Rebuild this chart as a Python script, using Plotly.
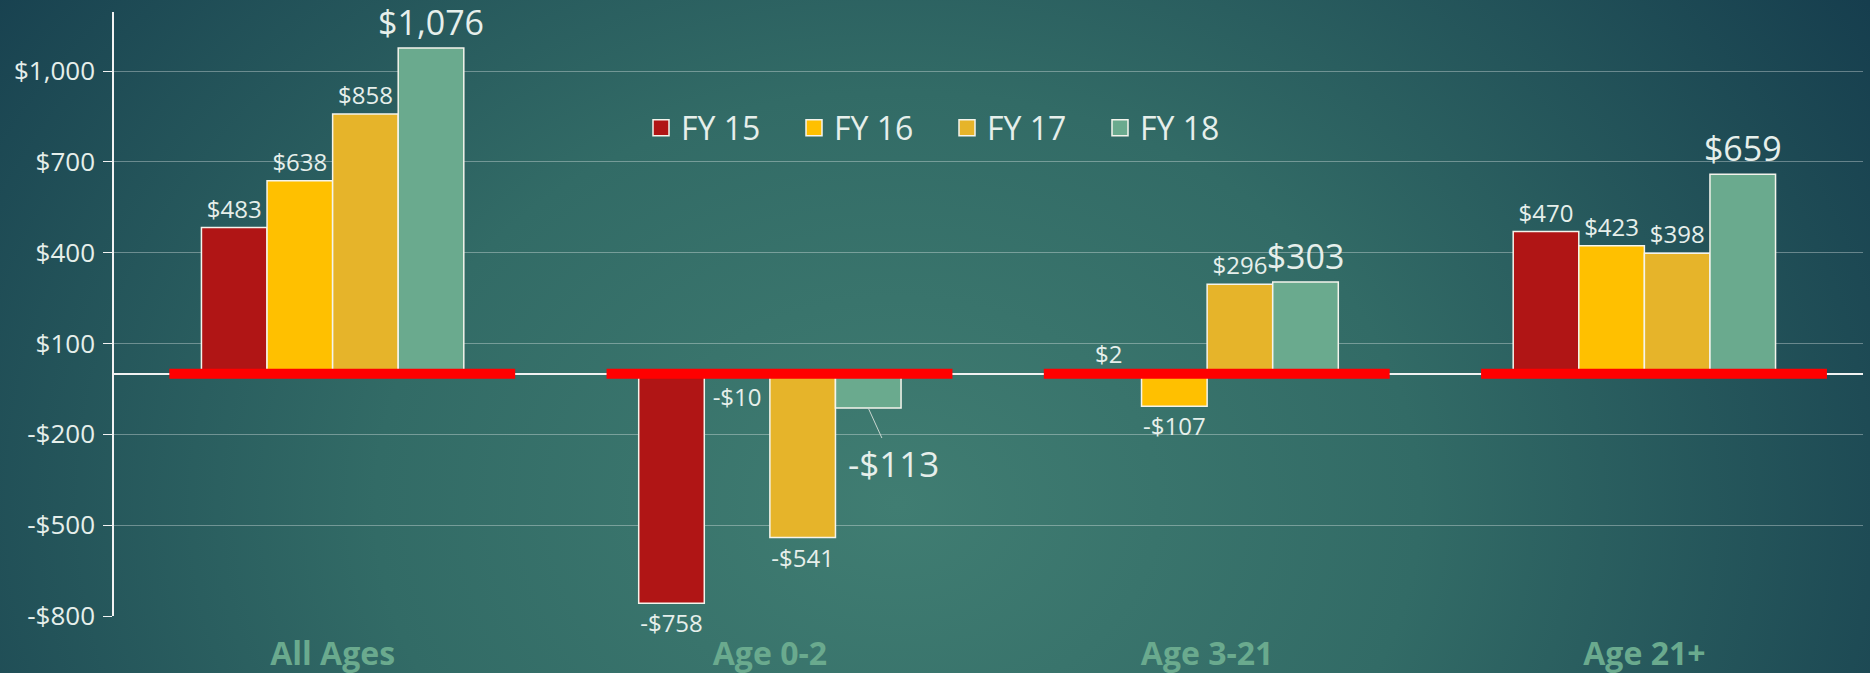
import base64
import plotly.graph_objects as go

# ---------------- data ----------------
categories = ["All Ages", "Age 0-2", "Age 3-21", "Age 21+"]
series_names = ["FY 15", "FY 16", "FY 17", "FY 18"]
fy15 = [483, -758, 2, 470]
fy16 = [638, -10, -107, 423]
fy17 = [858, -541, 296, 398]
fy18 = [1076, -113, 303, 659]
tick_values = [-800, -500, -200, 100, 400, 700, 1000]

# ---------------- style ----------------
colors = ["#B01515", "#FFC000", "#E6B42A", "#6AAA8E"]
W, H = 1870, 673
ML, MR, MT, MB = 114, 7, 12, 57
FONT = "Open Sans"
TXT = "#E6EFEB"
BARGAP = 0.40
OUTLINE = "#F4F4EC"


def money(v):
    return f"-${abs(v):,}" if v < 0 else f"${v:,}"


fig = go.Figure()
all_series = [fy15, fy16, fy17, fy18]
for name, vals, col in zip(series_names, all_series, colors):
    big = name == "FY 18"
    texts, sizes = [], []
    for c, v in zip(categories, vals):
        texts.append("" if (big and c == "Age 0-2") else money(v))
        sizes.append(34 if big else 24)
    fig.add_trace(go.Bar(
        name=name, x=categories, y=vals, legendgroup=name, showlegend=False,
        marker=dict(color=col, line=dict(color=OUTLINE, width=1.5)),
        text=texts, textposition="outside", constraintext="none",
        cliponaxis=False,
        textfont=dict(family=FONT, size=sizes, color=TXT),
        hoverinfo="skip",
    ))

# legend entries (larger square swatches)
for name, col in zip(series_names, colors):
    fig.add_trace(go.Scatter(
        name=name, x=[None], y=[None], mode="markers", legendgroup=name,
        marker=dict(symbol="square", size=16, color=col,
                    line=dict(color=OUTLINE, width=1.5)),
        hoverinfo="skip",
    ))

# red baseline strokes per category
shapes = []
half = 0.3955
for i, _ in enumerate(categories):
    shapes.append(dict(type="line", xref="x", yref="y",
                       x0=i + 0.022 - half, x1=i + 0.022 + half, y0=0, y1=0,
                       line=dict(color="#FF0000", width=10), layer="above"))

# call-out label for Age 0-2 FY 18
bw = (1 - BARGAP) / len(series_names)
idx = categories.index("Age 0-2")
annotations = [dict(
    x=idx + 1.5 * bw, y=fy18[idx], xref="x", yref="y",
    text=money(fy18[idx]), showarrow=True, arrowhead=0, arrowwidth=1,
    arrowcolor="#C9D6D0", ax=25, ay=55,
    font=dict(family=FONT, size=35, color=TXT),
)]

# background gradient
svg = f'''<svg xmlns="http://www.w3.org/2000/svg" width="{W}" height="{H}" viewBox="0 0 {W} {H}" preserveAspectRatio="none">
<defs><radialGradient id="g" cx="0.48" cy="0.75" r="0.62" gradientUnits="objectBoundingBox" gradientTransform="translate(0.48 0.75) scale(1 2.2) translate(-0.48 -0.75)">
<stop offset="0" stop-color="#407D72"/>
<stop offset="0.45" stop-color="#326B66"/>
<stop offset="1" stop-color="#163E4E"/>
</radialGradient></defs>
<rect width="{W}" height="{H}" fill="url(#g)"/></svg>'''
src = "data:image/svg+xml;base64," + base64.b64encode(svg.encode()).decode()
pw, ph = W - ML - MR, H - MT - MB

fig.update_layout(
    width=W, height=H,
    margin=dict(l=ML, r=MR, t=MT, b=MB, pad=0, autoexpand=False),
    paper_bgcolor="#1E4A54", plot_bgcolor="rgba(0,0,0,0)",
    barmode="group", bargap=BARGAP, bargroupgap=0,
    font=dict(family=FONT, color=TXT),
    showlegend=True,
    legend=dict(orientation="h", x=(641 - ML) / pw, y=1 - (128 - MT) / ph,
                xanchor="left", yanchor="middle", bgcolor="rgba(0,0,0,0)",
                font=dict(family=FONT, size=32, color=TXT),
                entrywidth=108, entrywidthmode="pixels", traceorder="normal"),
    shapes=shapes,
    annotations=annotations,
    images=[dict(source=src, xref="paper", yref="paper",
                 x=-ML / pw, y=1 + MT / ph, sizex=W / pw, sizey=H / ph,
                 xanchor="left", yanchor="top", sizing="stretch", layer="below")],
    xaxis=dict(range=[-0.5, 3.5], showgrid=False, showline=False, zeroline=False,
               automargin=False,
               ticks="", tickfont=dict(family=FONT, size=32, color="#6AAA8E", weight="bold"),
               ticklabelstandoff=16),
    yaxis=dict(range=[-800, 1195], tickvals=tick_values, automargin=False,
               ticktext=[money(v) for v in tick_values],
               showgrid=True, gridcolor="rgba(255,255,255,0.33)", gridwidth=1,
               zeroline=True, zerolinecolor="#F2F2F2", zerolinewidth=1.5,
               showline=True, linecolor="#F2F2F2", linewidth=1.5,
               ticks="outside", ticklen=9, tickcolor="#F2F2F2", tickwidth=1,
               tickfont=dict(family=FONT, size=26, color=TXT),
               ticklabelstandoff=3),
)

fig.write_html(
    "out.html",
    config={"displayModeBar": False},
    post_script="document.body.style.margin='0';document.body.style.overflow='hidden';",
)
